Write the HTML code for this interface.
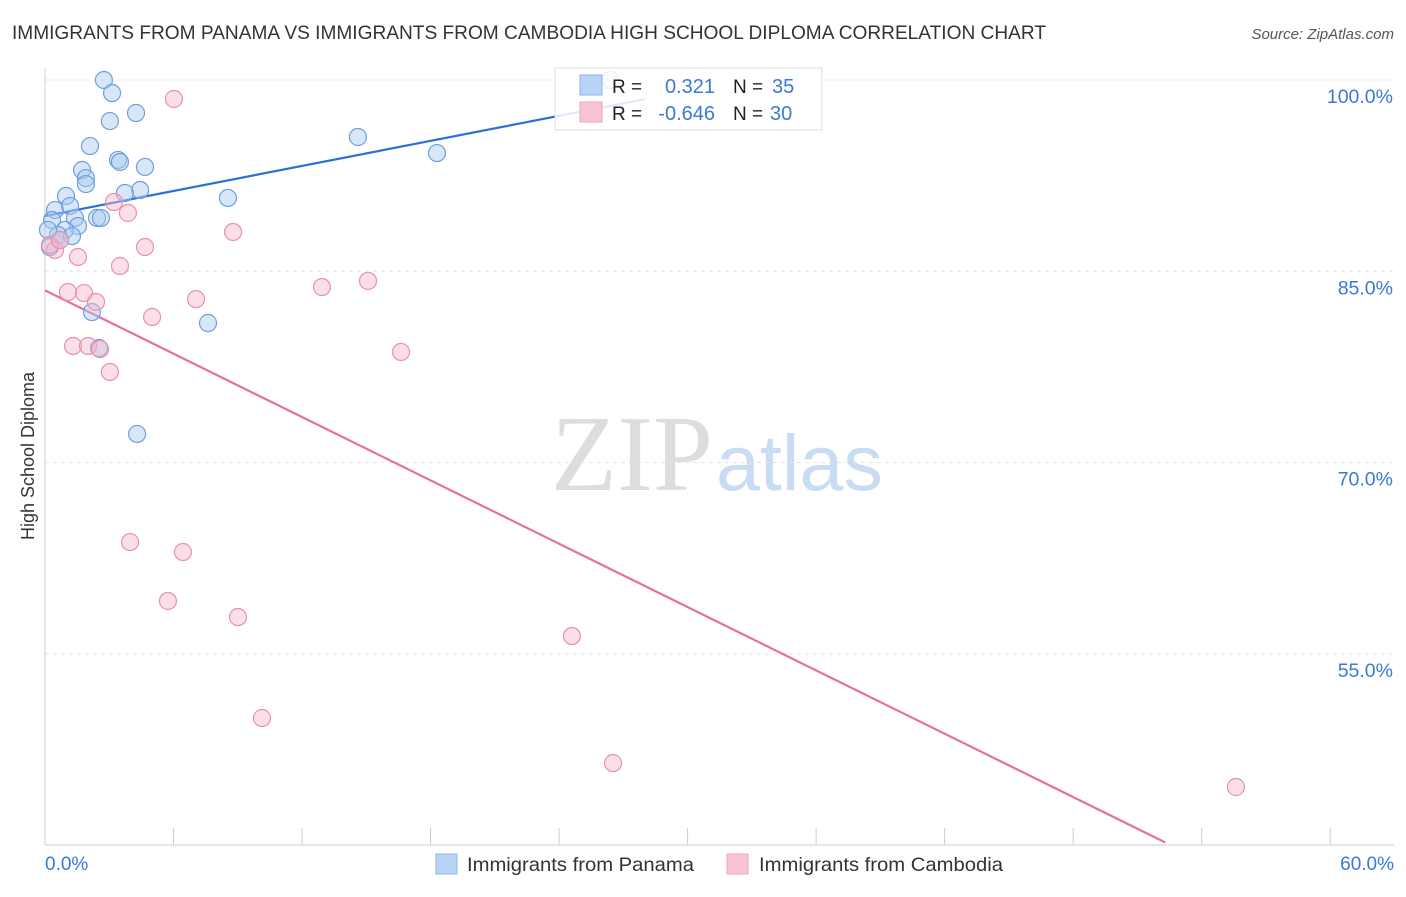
<!DOCTYPE html>
<html><head><meta charset="utf-8"><style>
body{margin:0;background:#fff;font-family:"Liberation Sans",sans-serif;}
</style></head><body>
<svg width="1406" height="892" xmlns="http://www.w3.org/2000/svg" id="chart">
<text x="12" y="39" font-size="19" fill="#333" textLength="1034" lengthAdjust="spacingAndGlyphs">IMMIGRANTS FROM PANAMA VS IMMIGRANTS FROM CAMBODIA HIGH SCHOOL DIPLOMA CORRELATION CHART</text>
<text x="1394" y="39" font-size="15" fill="#555" font-style="italic" text-anchor="end">Source: ZipAtlas.com</text>
<text x="713" y="490" font-size="108" fill="#ddd" text-anchor="end" font-family="Liberation Serif,serif">ZIP</text>
<text x="716" y="490" font-size="79" fill="#c9dcf3">atlas</text>
<g id="grid"></g>
<g id="axes"></g>
<g id="lines"></g>
<g id="points"></g>
<g>
<rect x="555" y="68" width="267" height="62" fill="#fff" fill-opacity="0.85" stroke="#ddd"/>
<rect x="580" y="75" width="22" height="20" fill="#b8d3f5" stroke="#8ab4ea"/>
<rect x="580" y="102" width="22" height="20" fill="#f8c4d5" stroke="#eea3bd"/>
<text x="612" y="93" font-size="19" fill="#222">R =</text>
<text x="715" y="93" font-size="20" fill="#3b78d8" text-anchor="end">0.321</text>
<text x="733" y="93" font-size="19" fill="#222">N =</text>
<text x="772" y="93" font-size="20" fill="#3b78d8">35</text>
<text x="612" y="120" font-size="19" fill="#222">R =</text>
<text x="715" y="120" font-size="20" fill="#3b78d8" text-anchor="end">-0.646</text>
<text x="733" y="120" font-size="19" fill="#222">N =</text>
<text x="770" y="120" font-size="20" fill="#3b78d8">30</text>
</g>
<text x="34" y="456" font-size="18" fill="#333" text-anchor="middle" transform="rotate(-90 34 456)">High School Diploma</text>
<text x="45" y="870" font-size="19" fill="#3b78d8">0.0%</text>
<text x="1394" y="870" font-size="19" fill="#3b78d8" text-anchor="end">60.0%</text>
<g>
<rect x="436" y="854" width="21" height="20" fill="#b8d3f5" stroke="#8ab4ea"/>
<text x="467" y="871" font-size="19.5" fill="#333" textLength="227" lengthAdjust="spacingAndGlyphs">Immigrants from Panama</text></g>
<g>
<rect x="727" y="854" width="21" height="20" fill="#f8c4d5" stroke="#eea3bd"/>
<text x="759" y="871" font-size="19.5" fill="#333" textLength="244" lengthAdjust="spacingAndGlyphs">Immigrants from Cambodia</text></g>
</svg>
<script>
const yTicks=[100,85,70,55];
const yTickLabels=["100.0%","85.0%","70.0%","55.0%"];
const xTicks=[0,6,12,18,24,30,36,42,48,54,60];
const panamaX=[2.75,3.13,4.25,3.03,2.1,3.41,3.5,4.67,1.73,1.91,1.91,4.44,3.73,0.98,8.54,0.47,1.17,1.4,2.43,2.61,0.33,1.54,0.93,0.61,1.26,0.7,0.23,14.61,18.3,2.19,7.61,2.52,4.3,26.4,0.14];
const panamaY=[100,98.98,97.41,96.78,94.82,93.73,93.57,93.18,92.94,92.31,91.84,91.37,91.14,90.9,90.75,89.8,90.12,89.18,89.18,89.18,89.02,88.55,88.24,87.84,87.76,87.45,86.9,95.53,94.27,81.8,80.94,78.98,72.24,100,88.24];
const cambodiaX=[6.02,3.22,3.87,8.78,4.67,0.47,1.54,3.5,1.07,1.82,2.38,7.05,12.93,15.08,5,1.31,2.01,2.57,16.62,3.03,3.97,6.44,5.74,9.01,24.6,10.13,26.52,55.6,0.23,0.7];
const cambodiaY=[98.51,90.43,89.57,88.08,86.9,86.67,86.12,85.41,83.37,83.29,82.59,82.82,83.76,84.24,81.41,79.14,79.14,78.9,78.67,77.1,63.76,62.98,59.14,57.88,56.39,49.96,46.43,44.55,87.06,87.45];
const panamaTrend=[[0,89.33],[28,98.5]];
const cambodiaTrend=[[0,83.5],[52.3,40.2]];
const NS="http://www.w3.org/2000/svg";
const X=v=>45+v*21.42;
const Y=v=>80+(100-v)*12.75;
function mk(tag,attrs,parent){const e=document.createElementNS(NS,tag);for(const k in attrs)e.setAttribute(k,attrs[k]);document.getElementById(parent).appendChild(e);return e;}
yTicks.forEach((t,i)=>{
 const l=mk('line',{x1:45,x2:1394,y1:Y(t),y2:Y(t),stroke:'#e3e3e3','stroke-dasharray':'4,4'},'grid');
 
 
 const tx=mk('text',{x:1393,y:Y(t)+23,'font-size':19.5,fill:'#3b78d8','text-anchor':'end'},'grid');
 tx.textContent=yTickLabels[i];
 
 
});
const ya=mk('line',{x1:45,x2:45,y1:68,y2:845,stroke:'#ccc'},'axes');


const xa=mk('line',{x1:45,x2:1394,y1:845,y2:845,stroke:'#ccc'},'axes');


xTicks.forEach(t=>{
 const l=mk('line',{x1:X(t),x2:X(t),y1:828,y2:845,stroke:'#ccc'},'axes');
 
 
});
function pts(xs,ys,fill,stroke,name){
 xs.forEach((x,i)=>{
  const c=mk('circle',{cx:X(x),cy:Y(ys[i]),r:8.5,fill:fill,'fill-opacity':0.45,stroke:stroke,'stroke-width':1.2},'points');
  
  
 });
}
pts(panamaX,panamaY,'#a9c9f0','#6d9fe0','point-panama');
pts(cambodiaX,cambodiaY,'#f5b8cc','#e890b0','point-cambodia');
const t1=mk('line',{x1:X(panamaTrend[0][0]),y1:Y(panamaTrend[0][1]),x2:X(panamaTrend[1][0]),y2:Y(panamaTrend[1][1]),stroke:'#2c6fd6','stroke-width':2.2},'lines');


const t2=mk('line',{x1:X(cambodiaTrend[0][0]),y1:Y(cambodiaTrend[0][1]),x2:X(cambodiaTrend[1][0]),y2:Y(cambodiaTrend[1][1]),stroke:'#e5709b','stroke-width':2.2},'lines');


</script>
</body></html>
